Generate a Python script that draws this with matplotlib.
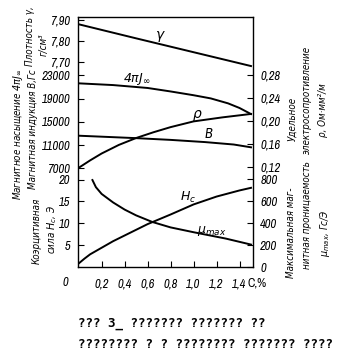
import matplotlib
matplotlib.use('Agg')
import matplotlib.pyplot as plt

plt.rcParams['font.family'] = ['Archivo Narrow', 'DejaVu Sans']
plt.rcParams['font.style'] = 'italic'
plt.rcParams['mathtext.fontset'] = 'dejavusans'

# содержание углерода, %
c_gamma = [0.0, 0.5, 1.0, 1.5]
gamma = [7.882, 7.815, 7.749, 7.683]

c_j = [0.0, 0.3, 0.6, 0.8, 1.0, 1.15, 1.3, 1.4, 1.5]
j_sat = [21650, 21350, 20850, 20250, 19600, 19050, 18200, 17400, 16350]

c_rho = [0.0, 0.1, 0.2, 0.35, 0.5, 0.65, 0.8, 1.0, 1.25, 1.5]
rho = [0.118, 0.131, 0.143, 0.158, 0.170, 0.180, 0.189, 0.199, 0.206, 0.212]

c_b = [0.0, 0.5, 0.8, 1.1, 1.35, 1.5]
b_ind = [12620, 12200, 11900, 11520, 11100, 10620]

c_hc = [0.0, 0.05, 0.1, 0.2, 0.3, 0.4, 0.6, 0.8, 1.0, 1.2, 1.4, 1.5]
hc = [0.8, 1.9, 2.9, 4.4, 5.9, 7.2, 9.8, 12.0, 14.3, 16.1, 17.5, 18.1]

c_mu = [0.12, 0.15, 0.2, 0.3, 0.4, 0.5, 0.64, 0.8, 1.0, 1.28, 1.5]
mu = [795, 730, 668, 590, 525, 472, 412, 362, 318, 260, 205]

x_ticks = [0.2, 0.4, 0.6, 0.8, 1.0, 1.2, 1.4]
gamma_ticks = [7.70, 7.80, 7.90]
b_ticks = [7000, 11000, 15000, 19000, 23000]
hc_ticks = [5, 10, 15, 20]
rho_ticks = [0.12, 0.16, 0.20, 0.24, 0.28]
mu_ticks = [0, 200, 400, 600, 800]

W, H = 352, 361


def fx(x):
    return x / W


def fy(y):
    return 1 - y / H


def comma(v, fmt):
    return (fmt % v).replace('.', ',')


fig = plt.figure(figsize=(W / 100, H / 100), dpi=100)
pos = [fx(77.5), fy(267), (253.3 - 77.5) / W, (267 - 16.5) / H]
ax = fig.add_axes(pos)
ax.set_xlim(-0.01, 1.52)
ax.set_yticks([])
ax.set_xticks(x_ticks)
ax.set_xticklabels([comma(v, '%.1f') for v in x_ticks], fontsize=9)
ax.tick_params(axis='x', direction='in', length=4, width=0.8, pad=8)
for s in ax.spines.values():
    s.set_linewidth(1.0)


def twin(ylim, side, ticks, labels):
    t = fig.add_axes(pos, sharex=ax)
    t.patch.set_visible(False)
    for s in t.spines.values():
        s.set_visible(False)
    t.set_ylim(*ylim)
    t.tick_params(axis='x', which='both', bottom=False, labelbottom=False)
    t.set_yticks(ticks)
    t.set_yticklabels(labels, fontsize=9)
    if side == 'right':
        t.yaxis.tick_right()
    t.tick_params(axis='y', direction='in', length=4, width=0.8, pad=5)
    return t


lw = 1.4
ax_g = twin((6.726, 7.919), 'left', gamma_ticks, [comma(v, '%.2f') for v in gamma_ticks])
ax_g.plot(c_gamma, gamma, color='black', lw=lw)

ax_b = twin((-10016, 33172), 'left', b_ticks, [str(v) for v in b_ticks])
ax_b.plot(c_j, j_sat, color='black', lw=lw)
ax_b.plot(c_b, b_ind, color='black', lw=lw)

ax_h = twin((0, 57.26), 'left', hc_ticks, [str(v) for v in hc_ticks])
ax_h.plot(c_hc, hc, color='black', lw=lw)

ax_r = twin((-0.055, 0.382), 'right', rho_ticks, [comma(v, '%.2f') for v in rho_ticks])
ax_r.plot(c_rho, rho, color='black', lw=lw)

ax_m = twin((0, 2290), 'right', mu_ticks, [str(v) for v in mu_ticks])
ax_m.plot(c_mu, mu, color='black', lw=lw)

# подписи кривых
fig.text(fx(160), fy(35), 'γ', fontsize=10, ha='center', va='center', family='DejaVu Sans')
fig.text(fx(137), fy(79), r'$4\pi J_\infty$', fontsize=9, ha='center', va='center')
fig.text(fx(197), fy(114), 'ρ', fontsize=10, ha='center', va='center', family='DejaVu Sans')
fig.text(fx(208), fy(134), 'B', fontsize=10, ha='center', va='center')
fig.text(fx(188), fy(197), r'$H_c$', fontsize=9, ha='center', va='center')
fig.text(fx(212), fy(231), r'$\mu_{max}$', fontsize=9, ha='center', va='center')

fig.text(fx(65), fy(283), '0', fontsize=9, ha='center', va='center')
fig.text(fx(247), fy(283), 'C,%', fontsize=9, ha='left', va='center', style='normal')

# подписи осей
lab = dict(fontsize=7, rotation=90, ha='center', va='center',
           family='DejaVu Sans', stretch='condensed')
fig.text(fx(18), fy(134), r'Магнитное насыщение $4\pi J_\infty$', **lab)
fig.text(fx(33), fy(129), 'Магнитная индукция B,Гс', **lab)
fig.text(fx(30), fy(36), 'Плотность γ,', **lab)
fig.text(fx(44), fy(45), 'г/см³', **lab)
fig.text(fx(37), fy(231), 'Коэрцитивная', **lab)
fig.text(fx(52), fy(229), r'сила $H_c$, Э', **lab)

fig.text(fx(292), fy(119), 'Удельное', **lab)
fig.text(fx(307), fy(100), 'электросопротивление', **lab)
fig.text(fx(323), fy(110), 'ρ, Ом·мм²/м', **lab)
fig.text(fx(291), fy(233), 'Максимальная маг-', **lab)
fig.text(fx(307), fy(215), 'нитная проницаемость', **lab)
fig.text(fx(325), fy(233), r'$\mu_{max}$, Гс/Э', **lab)

# подпись рисунка
cap = dict(fontsize=9, family='DejaVu Sans Mono', weight='bold', style='normal',
           ha='left', va='center')
fig.text(fx(78), fy(324), '??? 3_ ??????? ??????? ??', **cap)
fig.text(fx(78), fy(344), '???????? ? ? ???????? ??????? ????', **cap)

fig.savefig('out.png', dpi=100)
